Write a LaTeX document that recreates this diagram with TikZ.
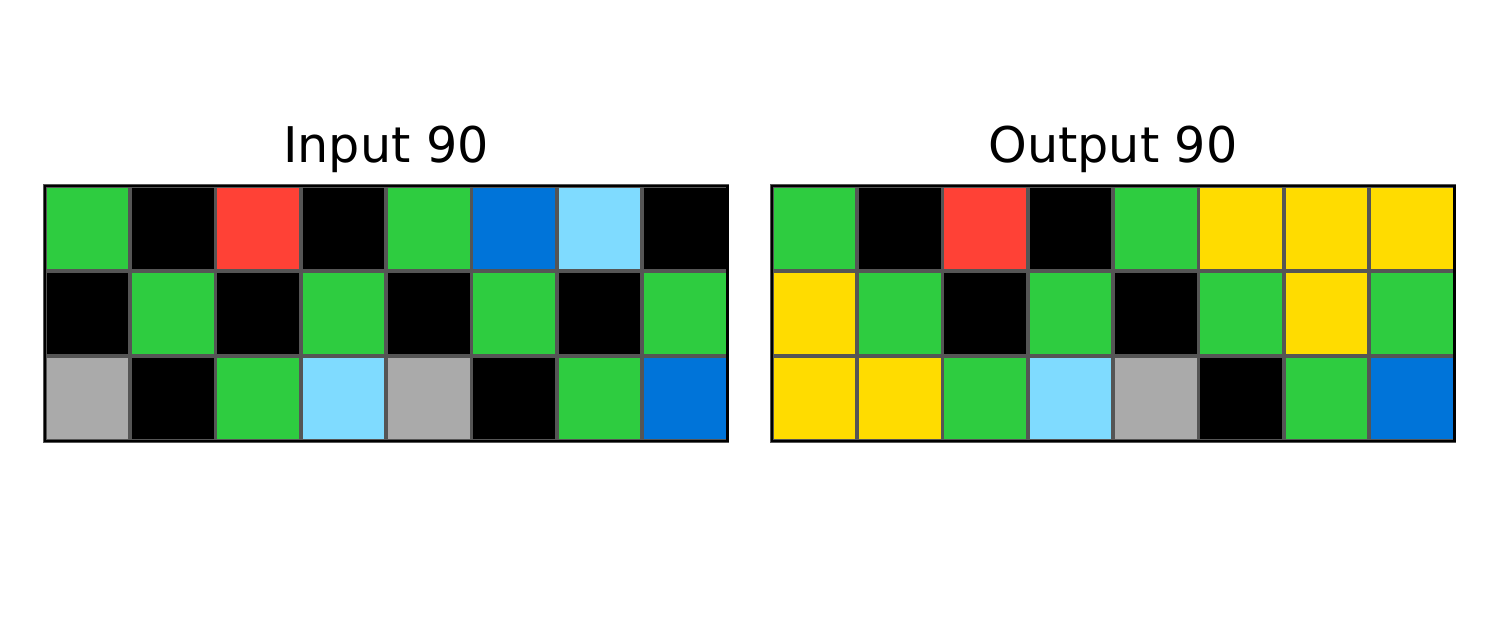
\documentclass[tikz,border=0pt]{standalone}
\usepackage{fontspec}
\setmainfont{DejaVu Sans}
\usetikzlibrary{positioning,fit}
\definecolor{arcgreen}{HTML}{2ECC40}
\definecolor{arcblack}{HTML}{000000}
\definecolor{arcred}{HTML}{FF4136}
\definecolor{arcblue}{HTML}{0074D9}
\definecolor{arcsky}{HTML}{7FDBFF}
\definecolor{arcgray}{HTML}{AAAAAA}
\definecolor{arcyellow}{HTML}{FFDC00}
\definecolor{gridline}{HTML}{555555}
\def\CellW{85.3}

\begin{document}
\begin{tikzpicture}[x=0.02cm,y=-0.02cm,% one unit is one pixel of the reference
		every node/.style={inner sep=0pt,outer sep=0pt},
		cell/.style={draw=gridline,line width=2.1pt,minimum width=1.706cm,minimum height=1.7cm},
		frame/.style={draw=black,line width=1.6pt,inner sep=0pt},
		title/.style={font=\fontsize{28}{34}\selectfont,anchor=base}
	]
	\useasboundingbox (0,0) rectangle (1500,629);
	% input grid
	\foreach \c [count=\j] in {arcgreen,arcblack,arcred,arcblack,arcgreen,arcblue,arcsky,arcblack}
		\node[cell,fill=\c](in-1-\j) at ({45+\CellW*(\j-0.5)},228.5){};
	\foreach \c [count=\j] in {arcblack,arcgreen,arcblack,arcgreen,arcblack,arcgreen,arcblack,arcgreen}
		\node[cell,fill=\c](in-2-\j) at ({45+\CellW*(\j-0.5)},313.5){};
	\foreach \c [count=\j] in {arcgray,arcblack,arcgreen,arcsky,arcgray,arcblack,arcgreen,arcblue}
		\node[cell,fill=\c](in-3-\j) at ({45+\CellW*(\j-0.5)},398.5){};
	\node[frame,fit=(in-1-1)(in-3-8)](inframe){};
	\node[title](intitle) at (386,162){Input 90};
	% output grid
	\foreach \c [count=\j] in {arcgreen,arcblack,arcred,arcblack,arcgreen,arcyellow,arcyellow,arcyellow}
		\node[cell,fill=\c](out-1-\j) at ({772+\CellW*(\j-0.5)},228.5){};
	\foreach \c [count=\j] in {arcyellow,arcgreen,arcblack,arcgreen,arcblack,arcgreen,arcyellow,arcgreen}
		\node[cell,fill=\c](out-2-\j) at ({772+\CellW*(\j-0.5)},313.5){};
	\foreach \c [count=\j] in {arcyellow,arcyellow,arcgreen,arcsky,arcgray,arcblack,arcgreen,arcblue}
		\node[cell,fill=\c](out-3-\j) at ({772+\CellW*(\j-0.5)},398.5){};
	\node[frame,fit=(out-1-1)(out-3-8)](outframe){};
	\node[title](outtitle) at (1113,162){Output 90};
\end{tikzpicture}
\end{document}
